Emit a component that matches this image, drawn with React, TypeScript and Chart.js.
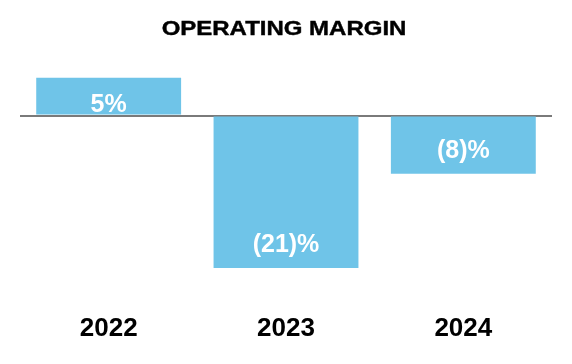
import React, { useEffect, useRef } from "react";
import { Chart, registerables } from "chart.js";

Chart.register(...registerables);

const TITLE = "OPERATING MARGIN";
const YEARS = ["2022", "2023", "2024"];
const MARGIN_VALUES = [5.2, -21, -8];
const VALUE_LABELS = ["5%", "(21)%", "(8)%"];
const BAR_COLOR = "#6FC4E8";

const titlePlugin = {
  id: "stretchedTitle",
  afterDraw(chart: any) {
    const ctx = chart.ctx;
    ctx.save();
    ctx.font = "bold 19.5px 'Liberation Sans', Arial, sans-serif";
    ctx.fillStyle = "#000";
    ctx.strokeStyle = "#000";
    ctx.lineWidth = 0.4;
    ctx.textAlign = "center";
    ctx.textBaseline = "middle";
    ctx.translate(284, 30);
    ctx.scale(1.23, 1);
    ctx.fillText(TITLE, 0, 0);
    ctx.strokeText(TITLE, 0, 0);
    ctx.restore();
  },
};

const barLabelPlugin = {
  id: "barLabels",
  afterDatasetsDraw(chart: any) {
    const ctx = chart.ctx;
    const meta = chart.getDatasetMeta(0);
    meta.data.forEach((el: any, i: number) => {
      const v = MARGIN_VALUES[i];
      const y = v >= 0 ? el.y + 27 : el.y - 23;
      ctx.save();
      ctx.font = "bold 25px 'Liberation Sans', Arial, sans-serif";
      ctx.fillStyle = "#fff";
      ctx.textAlign = "center";
      ctx.textBaseline = "middle";
      ctx.fillText(VALUE_LABELS[i], el.x, y);
      ctx.restore();
    });
  },
};

export default function App() {
  const ref = useRef<HTMLCanvasElement>(null);
  useEffect(() => {
    if (!ref.current) return;
    const chart = new Chart(ref.current, {
      type: "bar",
      data: {
        labels: YEARS,
        datasets: [
          {
            data: MARGIN_VALUES,
            backgroundColor: BAR_COLOR,
            borderWidth: 0,
            barPercentage: 0.817,
            categoryPercentage: 1,
          },
        ],
      },
      options: {
        animation: false,
        responsive: false,
        maintainAspectRatio: false,
        layout: { padding: { top: 50.2, bottom: 16, left: 20, right: 20 } },
        plugins: {
          legend: { display: false },
          title: { display: false },
          tooltip: { enabled: false },
        },
        scales: {
          x: {
            afterFit: (s: any) => {
              s.height = 40;
            },
            grid: { display: false },
            border: { display: false },
            ticks: {
              color: "#000",
              padding: -3,
              font: { family: "'Liberation Sans', Arial, sans-serif", size: 26, weight: "bold" },
            },
          },
          y: {
            min: -26.5,
            max: 9,
            afterFit: (s: any) => {
              s.width = 0;
            },
            border: { display: false },
            ticks: { display: false },
            grid: {
              drawTicks: false,
              lineWidth: 2,
              color: (c: any) => (c.tick && c.tick.value === 0 ? "#7a7a7a" : "rgba(0,0,0,0)"),
            },
          },
        },
      },
      plugins: [titlePlugin, barLabelPlugin],
    });
    return () => chart.destroy();
  }, []);
  return (
    <div style={{ position: "fixed", left: 0, top: 0, width: 572, height: 364, background: "#fff" }}>
      <canvas ref={ref} width={572} height={364} style={{ display: "block" }} />
    </div>
  );
}
